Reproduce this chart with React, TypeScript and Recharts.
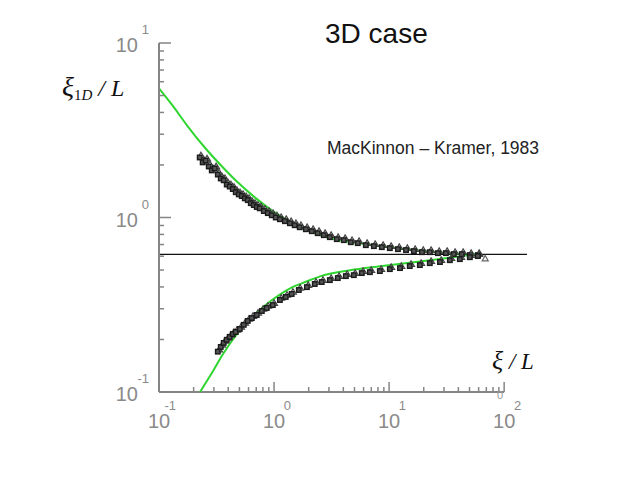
import { ComposedChart, Line, ReferenceLine, Scatter, XAxis, YAxis } from "recharts";

// log-spaced ticks (majors get labels)
const xTicks = [
  0.1, 0.2, 0.3, 0.4, 0.5, 0.6, 0.7, 0.8, 0.9, 1, 2, 3, 4, 5, 6, 7, 8, 9, 10, 20, 30, 40, 50, 60, 70, 80,
  90, 100,
];
const yTicks = [0.1, 0.2, 0.3, 0.4, 0.5, 0.6, 0.7, 0.8, 0.9, 1, 2, 3, 4, 5, 6, 7, 8, 9, 10];
const xExp: Record<string, string> = { "0.1": "-1", "1": "0", "10": "1", "100": "2" };
const yExp: Record<string, string> = { "0.1": "-1", "1": "0", "10": "1" };

const crossing = 0.615;

// green fit, upper branch
const upperFit = [
  { x: 0.1, y: 5.5 },
  { x: 0.13, y: 4.42 },
  { x: 0.179, y: 3.31 },
  { x: 0.251, y: 2.51 },
  { x: 0.353, y: 1.96 },
  { x: 0.486, y: 1.585 },
  { x: 0.684, y: 1.3 },
  { x: 0.961, y: 1.096 },
  { x: 1.32, y: 0.961 },
  { x: 1.86, y: 0.854 },
  { x: 3.07, y: 0.759 },
  { x: 5.6, y: 0.71 },
  { x: 12.5, y: 0.665 },
  { x: 27.8, y: 0.631 },
  { x: 56, y: 0.615 },
];

// green fit, lower branch
const lowerFit = [
  { x: 0.227, y: 0.1 },
  { x: 0.295, y: 0.132 },
  { x: 0.36, y: 0.165 },
  { x: 0.506, y: 0.226 },
  { x: 0.711, y: 0.286 },
  { x: 0.98, y: 0.34 },
  { x: 1.38, y: 0.393 },
  { x: 1.94, y: 0.431 },
  { x: 2.51, y: 0.46 },
  { x: 4.58, y: 0.498 },
  { x: 8.35, y: 0.525 },
  { x: 22.7, y: 0.568 },
  { x: 56, y: 0.615 },
];

const upperPoints = [
  { x: 0.227, y: 2.23 }, { x: 0.241, y: 2.09 }, { x: 0.256, y: 2.14 }, { x: 0.272, y: 1.98 },
  { x: 0.289, y: 1.88 }, { x: 0.307, y: 1.93 }, { x: 0.326, y: 1.78 }, { x: 0.346, y: 1.69 },
  { x: 0.367, y: 1.65 }, { x: 0.39, y: 1.56 }, { x: 0.414, y: 1.52 }, { x: 0.44, y: 1.47 },
  { x: 0.467, y: 1.41 }, { x: 0.496, y: 1.37 }, { x: 0.527, y: 1.34 }, { x: 0.56, y: 1.3 },
  { x: 0.594, y: 1.27 }, { x: 0.631, y: 1.22 }, { x: 0.67, y: 1.19 }, { x: 0.711, y: 1.16 },
  { x: 0.755, y: 1.14 }, { x: 0.819, y: 1.1 }, { x: 0.887, y: 1.07 }, { x: 0.961, y: 1.04 },
  { x: 1.04, y: 1.01 }, { x: 1.13, y: 0.987 }, { x: 1.25, y: 0.962 }, { x: 1.38, y: 0.936 },
  { x: 1.52, y: 0.912 }, { x: 1.68, y: 0.888 }, { x: 1.9, y: 0.865 }, { x: 2.14, y: 0.843 },
  { x: 2.41, y: 0.821 }, { x: 2.72, y: 0.8 }, { x: 3.07, y: 0.779 }, { x: 3.53, y: 0.759 },
  { x: 4.06, y: 0.749 }, { x: 4.67, y: 0.729 }, { x: 5.37, y: 0.72 }, { x: 6.31, y: 0.701 },
  { x: 7.41, y: 0.692 }, { x: 8.69, y: 0.683 }, { x: 10.2, y: 0.674 }, { x: 12.0, y: 0.665 },
  { x: 14.1, y: 0.657 }, { x: 16.5, y: 0.648 }, { x: 19.4, y: 0.639 }, { x: 22.7, y: 0.639 },
  { x: 26.7, y: 0.631 }, { x: 31.3, y: 0.631 }, { x: 36.7, y: 0.623 }, { x: 43.1, y: 0.623 },
  { x: 50.6, y: 0.615 }, { x: 59.4, y: 0.615 },
];

const lowerPoints = [
  { x: 0.326, y: 0.172 }, { x: 0.346, y: 0.183 }, { x: 0.367, y: 0.193 }, { x: 0.39, y: 0.201 },
  { x: 0.414, y: 0.209 }, { x: 0.44, y: 0.217 }, { x: 0.467, y: 0.223 }, { x: 0.506, y: 0.232 },
  { x: 0.548, y: 0.245 }, { x: 0.594, y: 0.258 }, { x: 0.644, y: 0.268 }, { x: 0.711, y: 0.279 },
  { x: 0.787, y: 0.294 }, { x: 0.869, y: 0.306 }, { x: 0.98, y: 0.318 }, { x: 1.13, y: 0.34 },
  { x: 1.27, y: 0.354 }, { x: 1.43, y: 0.368 }, { x: 1.65, y: 0.388 }, { x: 1.94, y: 0.403 },
  { x: 2.27, y: 0.42 }, { x: 2.61, y: 0.431 }, { x: 3.07, y: 0.442 }, { x: 3.6, y: 0.454 },
  { x: 4.23, y: 0.466 }, { x: 4.96, y: 0.472 }, { x: 5.82, y: 0.485 }, { x: 6.84, y: 0.491 },
  { x: 8.35, y: 0.498 }, { x: 10.2, y: 0.511 }, { x: 12.5, y: 0.518 }, { x: 15.2, y: 0.532 },
  { x: 18.6, y: 0.539 }, { x: 22.7, y: 0.553 }, { x: 27.8, y: 0.561 }, { x: 33.9, y: 0.575 },
  { x: 41.4, y: 0.583 }, { x: 50.6, y: 0.598 }, { x: 59.4, y: 0.607 },
];

const tailPoint = [{ x: 68.4, y: 0.583 }];

const AXIS = "#858585";
const GREEN = "#2fd62f";
const LABEL_FONT = "'Liberation Sans', Arial, sans-serif";
const MATH_FONT = "'Liberation Serif', 'Times New Roman', serif";

const isMajor = (v: number) => Math.abs(Math.log10(v) - Math.round(Math.log10(v))) < 1e-6;

function XTick({ x, y, payload }: any) {
  const v = payload.value;
  const major = isMajor(v);
  return (
    <g>
      <line x1={x} y1={y} x2={x} y2={y - (major ? 10 : 5)} stroke={AXIS} strokeWidth={1.5} />
      {major && (
        <g fill="#8a8a8a" fontFamily={LABEL_FONT}>
          <text x={x} y={y + 36} fontSize={20} textAnchor="middle">
            10
          </text>
          <text x={x + 17} y={y + 18} fontSize={13} textAnchor="end">
            {xExp[String(v)]}
          </text>
        </g>
      )}
    </g>
  );
}

function YTick({ x, y, payload }: any) {
  const v = payload.value;
  const major = isMajor(v);
  return (
    <g>
      <line x1={x} y1={y} x2={x + (major ? 12 : 5)} y2={y} stroke={AXIS} strokeWidth={1.5} />
      {major && (
        <g fill="#8a8a8a" fontFamily={LABEL_FONT}>
          <text x={x - 21} y={y + 9} fontSize={20} textAnchor="end">
            10
          </text>
          <text x={x - 10} y={y - 9} fontSize={13} textAnchor="end">
            {yExp[String(v)]}
          </text>
        </g>
      )}
    </g>
  );
}

// a scanned data marker: small square with a faint triangle behind it
function Dot({ cx, cy }: any) {
  return (
    <g>
      <path
        d={`M${cx + 1},${cy - 4.5} L${cx + 4.5},${cy + 1} L${cx - 2},${cy + 1} Z`}
        fill="none"
        stroke="#444"
        strokeWidth={1.2}
      />
      <rect x={cx - 2.5} y={cy - 1.5} width={4.5} height={4.5} fill="#555" stroke="#1a1a1a" strokeWidth={1.4} />
    </g>
  );
}

function Tri({ cx, cy }: any) {
  return (
    <path
      d={`M${cx},${cy - 3} L${cx + 3},${cy + 2.5} L${cx - 3},${cy + 2.5} Z`}
      fill="none"
      stroke="#666"
      strokeWidth={1.2}
    />
  );
}

export default function App() {
  return (
    <div style={{ position: "absolute", left: 0, top: 0, width: 640, height: 480, background: "#fff" }}>
      <ComposedChart width={640} height={480} margin={{ top: 43, right: 113, bottom: 48, left: 99 }}>
        <XAxis
          dataKey="x"
          type="number"
          scale="log"
          domain={[0.1, 158]}
          allowDataOverflow
          ticks={xTicks}
          interval={0}
          axisLine={false}
          tickLine={false}
          tickSize={0}
          tickMargin={0}
          height={40}
          tick={<XTick />}
        />
        <YAxis
          dataKey="y"
          type="number"
          scale="log"
          domain={[0.1, 10]}
          allowDataOverflow
          ticks={yTicks}
          interval={0}
          axisLine={{ stroke: AXIS, strokeWidth: 2 }}
          tickLine={false}
          tickSize={0}
          tickMargin={0}
          width={60}
          tick={<YTick />}
        />
        <ReferenceLine
          segment={[
            { x: 0.1, y: 0.1 },
            { x: 100, y: 0.1 },
          ]}
          stroke={AXIS}
          strokeWidth={2}
        />
        <ReferenceLine y={crossing} stroke="#111" strokeWidth={1.2} />
        <Scatter data={upperPoints} shape={<Dot />} isAnimationActive={false} />
        <Scatter data={lowerPoints} shape={<Dot />} isAnimationActive={false} />
        <Scatter data={tailPoint} shape={<Tri />} isAnimationActive={false} />
        <Line data={upperFit} dataKey="y" type="monotone" stroke={GREEN} strokeWidth={2} dot={false} isAnimationActive={false} />
        <Line data={lowerFit} dataKey="y" type="monotone" stroke={GREEN} strokeWidth={2} dot={false} isAnimationActive={false} />
      </ComposedChart>
      <svg width={640} height={480} style={{ position: "absolute", left: 0, top: 0, pointerEvents: "none" }}>
        <text x={325} y={43} fontSize={28} fontFamily={LABEL_FONT} fill="#111">
          3D case
        </text>
        <text x={327} y={154} fontSize={17.5} fontFamily={LABEL_FONT} fill="#222">
          MacKinnon – Kramer, 1983
        </text>
        <text x={62} y={96} fontSize={28} fontFamily={MATH_FONT} fontStyle="italic" fill="#111">
          ξ
          <tspan fontSize={15} dy={4} fontStyle="normal">1</tspan>
          <tspan fontSize={15}>D</tspan>
          <tspan fontSize={24} dy={-4}> / L</tspan>
        </text>
        <text x={492} y={369} fontSize={26} fontFamily={MATH_FONT} fontStyle="italic" fill="#111">
          ξ<tspan fontSize={23}> / L</tspan>
        </text>
        <text x={497} y={399} fontSize={11} fontFamily={LABEL_FONT} fill="#999">
          0
        </text>
      </svg>
    </div>
  );
}
